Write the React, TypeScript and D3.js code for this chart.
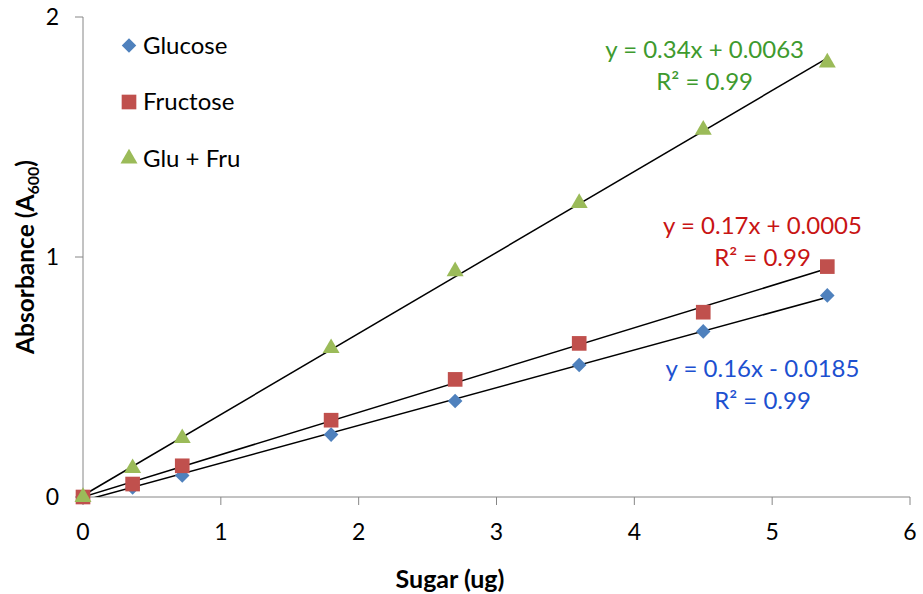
import * as d3 from 'd3';
import { useEffect } from 'react';

// sugar amounts (ug) and absorbance readings
const sugar = [0, 0.36, 0.72, 1.8, 2.7, 3.6, 4.5, 5.4];
const glucose = [0, 0.04, 0.09, 0.26, 0.4, 0.55, 0.69, 0.84];
const fructose = [0, 0.054, 0.13, 0.32, 0.49, 0.64, 0.77, 0.96];
const gluFru = [0, 0.12, 0.245, 0.62, 0.94, 1.225, 1.53, 1.81];

const seriesNames = ['Glucose', 'Fructose', 'Glu + Fru'];
const equations = ['y = 0.16x - 0.0185', 'y = 0.17x + 0.0005', 'y = 0.34x + 0.0063'];
const rSquared = ['R² = 0.99', 'R² = 0.99', 'R² = 0.99'];
const xTicks = [0, 1, 2, 3, 4, 5, 6];
const yTicks = [0, 1, 2];

const W = 923;
const H = 594;
const margin = { top: 17, right: 13, bottom: 97, left: 83 };
const font = 'Lato, "Open Sans", sans-serif';
const axisGrey = '#868686';

const markerFill = ['#4f81bd', '#c0504d', '#9bbb59'];
const labelFill = ['#1c50d0', '#c81414', '#3e9a2e'];
const shapes = [d3.symbolDiamond2, d3.symbolSquare, d3.symbolTriangle];
const shapeSize = [135, 215, 125];
// where the equation labels sit, in data units (centre x, baseline y of the first line)
const labelAt: [number, number][] = [[4.93, 0.5], [4.93, 1.095], [4.51, 1.83]];

const fit = (xs: number[], ys: number[]) => {
  const mx = d3.mean(xs)!;
  const my = d3.mean(ys)!;
  const sxy = d3.sum(xs, (x, i) => (x - mx) * (ys[i] - my));
  const sxx = d3.sum(xs, x => (x - mx) * (x - mx));
  const slope = sxy / sxx;
  return { slope, intercept: my - slope * mx };
};

export default function App() {
  useEffect(() => {
    document.body.style.margin = '0';
  }, []);

  const x = d3.scaleLinear().domain([0, 6]).range([margin.left, W - margin.right]);
  const y = d3.scaleLinear().domain([0, 2]).range([H - margin.bottom, margin.top]);
  const all = [glucose, fructose, gluFru];

  const line = d3.line<[number, number]>().x(d => x(d[0])).y(d => y(d[1]));

  return (
    <svg width={W} height={H} style={{ display: 'block', background: '#fff' }} fontFamily={font}>
      <defs>
        <clipPath id="plot">
          <rect x={x(0)} y={y(2)} width={x(6) - x(0)} height={y(0) - y(2)} />
        </clipPath>
      </defs>

      {/* axes */}
      <line x1={x(0)} x2={x(6)} y1={y(0)} y2={y(0)} stroke={axisGrey} />
      <line x1={x(0)} x2={x(0)} y1={y(0)} y2={y(2)} stroke={axisGrey} />
      {xTicks.map(t => (
        <g key={'x' + t}>
          <line x1={x(t)} x2={x(t)} y1={y(0)} y2={y(0) + 8} stroke={axisGrey} />
          <text x={x(t)} y={y(0) + 43} fontSize={23} textAnchor="middle" fill="#000">{t}</text>
        </g>
      ))}
      {yTicks.map(t => (
        <g key={'y' + t}>
          <line x1={x(0) - 8} x2={x(0)} y1={y(t)} y2={y(t)} stroke={axisGrey} />
          <text x={x(0) - 24} y={y(t) + 8} fontSize={23} textAnchor="end" fill="#000">{t}</text>
        </g>
      ))}
      <text x={450} y={588} fontSize={25} fontWeight="bold" textAnchor="middle">Sugar (ug)</text>
      <text transform={`translate(34,${(y(0) + y(2)) / 2}) rotate(-90)`} fontSize={24.5} fontWeight="bold" textAnchor="middle">
        Absorbance (A<tspan fontSize={16} dy={5}>600</tspan><tspan dy={-5}>)</tspan>
      </text>

      {/* trend lines */}
      <g clipPath="url(#plot)">
        {all.map((ys, i) => {
          const { slope, intercept } = fit(sugar, ys);
          const ends: [number, number][] = [0, d3.max(sugar)!].map(v => [v, slope * v + intercept]);
          return <path key={'t' + i} d={line(ends)!} fill="none" stroke="#000" strokeWidth={1.5} />;
        })}
      </g>

      {/* markers */}
      {all.map((ys, i) => (
        <g key={'s' + i} fill={markerFill[i]}>
          {ys.map((v, j) => (
            <path
              key={j}
              transform={`translate(${x(sugar[j])},${y(v)})`}
              d={d3.symbol(shapes[i], shapeSize[i])()!}
            />
          ))}
        </g>
      ))}

      {/* equation labels */}
      {labelAt.map(([lx, ly], i) => (
        <text key={'e' + i} x={x(lx)} y={y(ly)} fontSize={24} textAnchor="middle" fill={labelFill[i]}>
          {equations[i]}
          <tspan x={x(lx)} dy={32}>{rSquared[i]}</tspan>
        </text>
      ))}

      {/* legend */}
      {seriesNames.map((name, i) => (
        <g key={'l' + i} transform={`translate(129,${45.5 + i * 56.5})`}>
          <path fill={markerFill[i]} d={d3.symbol(shapes[i], shapeSize[i])()!} />
          <text x={14} y={8} fontSize={24} fill="#000">{name}</text>
        </g>
      ))}
    </svg>
  );
}
